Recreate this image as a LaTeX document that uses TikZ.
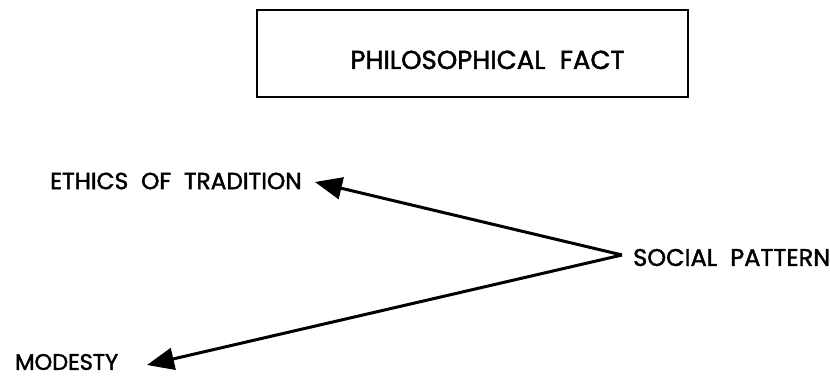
\documentclass[tikz,border=0pt]{standalone}
\usepackage{fontspec}
\setmainfont{Poppins}[RawFeature={embolden=1.8}]
\usetikzlibrary{arrows.meta}
\newcommand{\wsp}{\hspace{0.55em}}
\begin{document}
\begin{tikzpicture}[x=1pt,y=-1pt,
  lbl/.style={inner sep=0pt,font=\fontsize{24}{28}\selectfont,text=black},
  conn/.style={line width=3pt,-{Triangle[length=27pt,width=22pt]}}]
\useasboundingbox (0,0) rectangle (830,377);
\node[draw,line width=2.3pt,minimum width=431pt,minimum height=87pt,inner sep=0pt,
  text height=31pt,text depth=0pt,
  font=\fontsize{26}{30}\selectfont] (pf) at (472.5,53.5) {\hspace*{30pt}PHILOSOPHICAL\wsp FACT};
\node[lbl,anchor=west,font=\fontsize{23.3}{27}\selectfont] (eth) at (50,181) {ETHICS\wsp OF\wsp TRADITION};
\node[lbl,anchor=west,font=\fontsize{22.5}{26}\selectfont] (mod) at (15,362) {MODESTY};
\node[lbl,anchor=west] (soc) at (633,257.5) {SOCIAL\wsp PATTERN};
\coordinate (sp) at (622,255);
\coordinate (et) at (315,182);
\coordinate (mt) at (147,365);
\draw[conn] (sp) -- (et);
\draw[conn] (sp) -- (mt);
\end{tikzpicture}
\end{document}
